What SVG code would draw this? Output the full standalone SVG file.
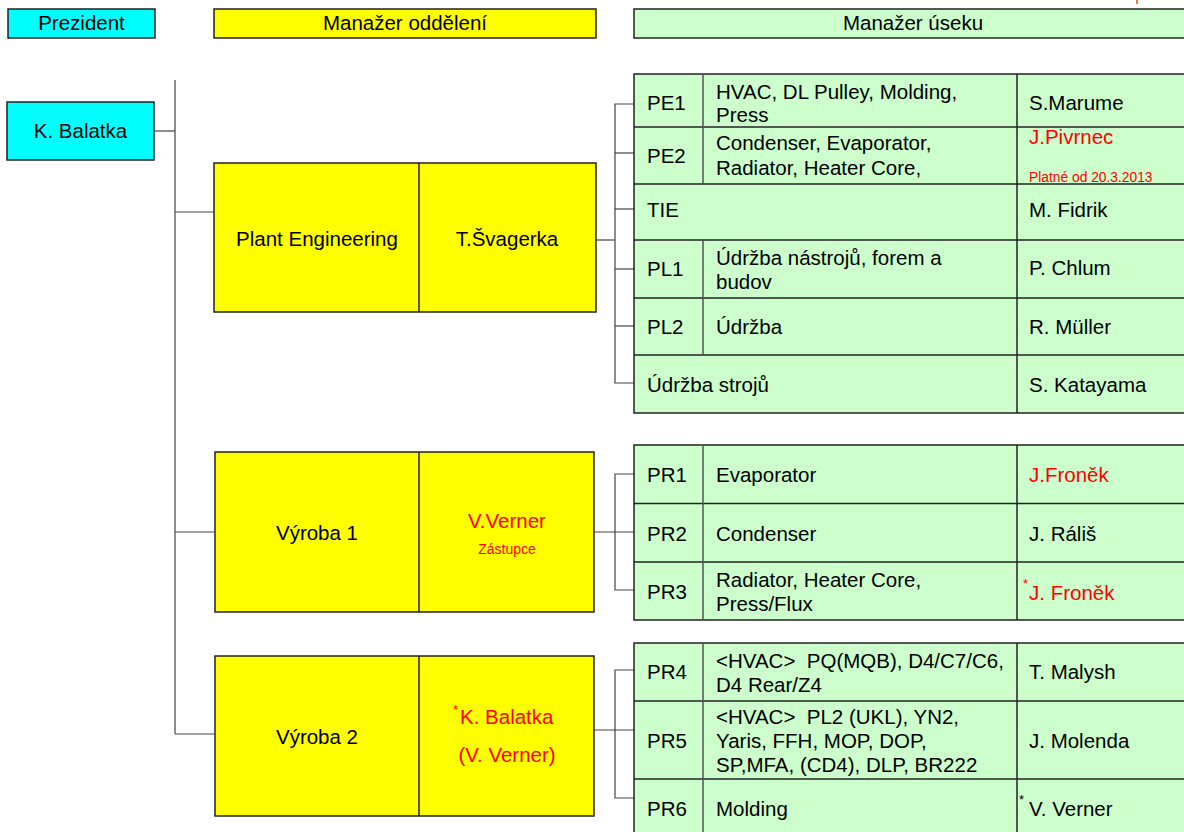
<svg xmlns="http://www.w3.org/2000/svg" width="1184" height="832" viewBox="0 0 1184 832">
  <style>
    text { font-family: "Liberation Sans", Arial, sans-serif; font-size: 20.5px; fill: #000; }
    .c { text-anchor: middle; }
    .red { fill: #ff0000; }
    .small { font-size: 13.8px; }
    .note { font-size: 14px; }
    .star { font-size: 13px; }
    .cyan { fill: #00ffff; stroke: #222; stroke-width: 1.5; }
    .yel { fill: #ffff00; stroke: #222; stroke-width: 1.5; }
    .grn { fill: #ccffcc; stroke: #222; stroke-width: 1.5; }
    .div { stroke: #222; stroke-width: 1.5; fill: none; }
    .sub { stroke: #555; stroke-width: 1.5; fill: none; }
    .conn { stroke: #444; stroke-width: 1.2; fill: none; }
  </style>

  <!-- column headings -->
  <g id="hdr-prezident">
    <rect class="cyan" x="8" y="9" width="147" height="29"/>
    <text class="c" x="81.5" y="30">Prezident</text>
  </g>
  <g id="hdr-oddeleni">
    <rect class="yel" x="214" y="9" width="382" height="29"/>
    <text class="c" x="405" y="30">Manažer oddělení</text>
  </g>
  <g id="hdr-useku">
    <rect class="grn" x="634" y="9" width="560" height="29"/>
    <text class="c" x="913" y="30">Manažer úseku</text>
  </g>
  <line x1="1137" y1="0" x2="1137" y2="4" stroke="#e05010" stroke-width="1.5"/>

  <!-- connectors -->
  <g id="connectors">
    <polyline class="conn" points="154,131 175,131"/>
    <polyline class="conn" points="175,80 175,734"/>
    <polyline class="conn" points="175,212 214,212"/>
    <polyline class="conn" points="175,532 214,532"/>
    <polyline class="conn" points="175,734 214,734"/>
    <!-- plant engineering bracket -->
    <polyline class="conn" points="596,240 615,240"/>
    <polyline class="conn" points="634,104 615,104 615,383 634,383"/>
    <polyline class="conn" points="615,153 634,153"/>
    <polyline class="conn" points="615,209 634,209"/>
    <polyline class="conn" points="615,269 634,269"/>
    <polyline class="conn" points="615,326 634,326"/>
    <!-- výroba 1 bracket -->
    <polyline class="conn" points="594,532 634,532"/>
    <polyline class="conn" points="634,474 615,474 615,590 634,590"/>
    <!-- výroba 2 bracket -->
    <polyline class="conn" points="594,730 634,730"/>
    <polyline class="conn" points="634,670 615,670 615,798 634,798"/>
  </g>

  <!-- president -->
  <g id="president">
    <rect class="cyan" x="7" y="102" width="147" height="58"/>
    <text class="c" x="80.5" y="138">K. Balatka</text>
  </g>

  <!-- departments -->
  <g id="dept-plant">
    <rect class="yel" x="214" y="163" width="382" height="149"/>
    <line class="div" x1="419" y1="163" x2="419" y2="312"/>
    <text class="c" x="317" y="246">Plant Engineering</text>
    <text class="c" x="507" y="246">T.Švagerka</text>
  </g>
  <g id="dept-vyroba1">
    <rect class="yel" x="215" y="452" width="379" height="160"/>
    <line class="div" x1="419" y1="452" x2="419" y2="612"/>
    <text class="c" x="317" y="540">Výroba 1</text>
    <text class="c red" x="507" y="528">V.Verner</text>
    <text class="c red note" x="507" y="554">Zástupce</text>
  </g>
  <g id="dept-vyroba2">
    <rect class="yel" x="215" y="656" width="379" height="160"/>
    <line class="div" x1="419" y1="656" x2="419" y2="816"/>
    <text class="c" x="317" y="744">Výroba 2</text>
    <text class="red star" x="453" y="714">*</text>
    <text class="red" x="460" y="724">K. Balatka</text>
    <text class="c red" x="507" y="762">(V. Verner)</text>
  </g>

  <!-- sections of plant engineering -->
  <g id="sect-pe">
    <rect class="grn" x="634" y="74" width="560" height="339"/>
    <line class="div" x1="634" y1="127" x2="1194" y2="127"/>
    <line class="div" x1="634" y1="184" x2="1194" y2="184"/>
    <line class="div" x1="634" y1="240" x2="1194" y2="240"/>
    <line class="div" x1="634" y1="298" x2="1194" y2="298"/>
    <line class="div" x1="634" y1="355" x2="1194" y2="355"/>
    <line class="div" x1="1017" y1="74" x2="1017" y2="413"/>
    <line class="sub" x1="703" y1="74" x2="703" y2="184"/>
    <line class="sub" x1="703" y1="240" x2="703" y2="355"/>

    <text x="647" y="110">PE1</text>
    <text x="716" y="99">HVAC, DL Pulley, Molding,</text>
    <text x="716" y="122">Press</text>
    <text x="1029" y="110">S.Marume</text>

    <text x="647" y="163">PE2</text>
    <text x="716" y="150">Condenser, Evaporator,</text>
    <text x="716" y="175">Radiator, Heater Core,</text>
    <text class="red" x="1029" y="144">J.Pivrnec</text>
    <text class="red small" x="1029" y="182">Platné od 20.3.2013</text>

    <text x="647" y="217">TIE</text>
    <text x="1029" y="217">M. Fidrik</text>

    <text x="647" y="276">PL1</text>
    <text x="716" y="265">Údržba nástrojů, forem a</text>
    <text x="716" y="289">budov</text>
    <text x="1029" y="275">P. Chlum</text>

    <text x="647" y="334">PL2</text>
    <text x="716" y="334">Údržba</text>
    <text x="1029" y="334">R. Müller</text>

    <text x="647" y="392">Údržba strojů</text>
    <text x="1029" y="392">S. Katayama</text>
  </g>

  <!-- sections of výroba 1 -->
  <g id="sect-pr1-3">
    <rect class="grn" x="634" y="445" width="560" height="175"/>
    <line class="div" x1="634" y1="503.5" x2="1194" y2="503.5" stroke-width="2"/>
    <line class="div" x1="634" y1="562" x2="1194" y2="562"/>
    <line class="sub" x1="703" y1="445" x2="703" y2="620"/>
    <line class="div" x1="1017" y1="445" x2="1017" y2="620"/>

    <text x="647" y="482">PR1</text>
    <text x="716" y="482">Evaporator</text>
    <text class="red" x="1029" y="482">J.Froněk</text>

    <text x="647" y="541">PR2</text>
    <text x="716" y="541">Condenser</text>
    <text x="1029" y="541">J. Ráliš</text>

    <text x="647" y="599">PR3</text>
    <text x="716" y="587">Radiator, Heater Core,</text>
    <text x="716" y="611">Press/Flux</text>
    <text class="red star" x="1023" y="588">*</text>
    <text class="red" x="1029" y="600">J. Froněk</text>
  </g>

  <!-- sections of výroba 2 -->
  <g id="sect-pr4-6">
    <rect class="grn" x="634" y="643" width="560" height="200"/>
    <line class="div" x1="634" y1="701" x2="1194" y2="701"/>
    <line class="div" x1="634" y1="779" x2="1194" y2="779"/>
    <line class="sub" x1="703" y1="643" x2="703" y2="843"/>
    <line class="div" x1="1017" y1="643" x2="1017" y2="843"/>

    <text x="647" y="679">PR4</text>
    <text x="716" y="668" xml:space="preserve">&lt;HVAC&gt;  PQ(MQB), D4/C7/C6,</text>
    <text x="716" y="692">D4 Rear/Z4</text>
    <text x="1029" y="679">T. Malysh</text>

    <text x="647" y="748">PR5</text>
    <text x="716" y="724" xml:space="preserve">&lt;HVAC&gt;  PL2 (UKL), YN2,</text>
    <text x="716" y="748">Yaris, FFH, MOP, DOP,</text>
    <text x="716" y="772">SP,MFA, (CD4), DLP, BR222</text>
    <text x="1029" y="748">J. Molenda</text>

    <text x="647" y="816">PR6</text>
    <text x="716" y="816">Molding</text>
    <text class="star" x="1019" y="804">*</text>
    <text x="1029" y="816">V. Verner</text>
  </g>
</svg>
